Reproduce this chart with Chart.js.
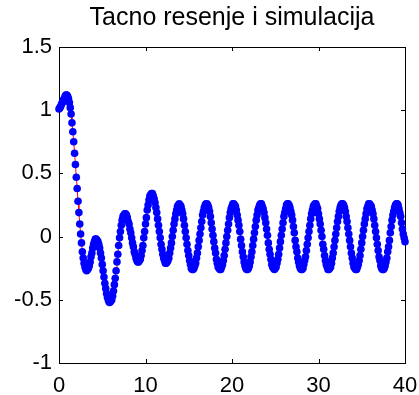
<!DOCTYPE html>
<html>
<head>
    <title>Tacno resenje i simulacija</title>
    <script src="https://cdn.jsdelivr.net/npm/chart.js"></script>
    <style>
        body { margin: 0; background: #fff; }
        #plot { display: block; }
    </style>
</head>
<body>
    <canvas id="plot" width="419" height="395"></canvas>

    <script>
        // sample step of the simulation (time axis 0..40)
        const tStep = 0.1;

        // response, one value per 0.1 s, t = 0 .. 40
        const simY = [
            1.01, 1.02, 1.03, 1.05, 1.06, 1.08, 1.09, 1.11, 1.12, 1.12,
            1.11, 1.09, 1.06, 1.02, 0.97, 0.90, 0.83, 0.75, 0.66, 0.57,
            0.47, 0.38, 0.28, 0.19, 0.10, 0.02, -0.05, -0.12, -0.17, -0.21,
            -0.24, -0.26, -0.27, -0.26, -0.25, -0.23, -0.20, -0.16, -0.13, -0.09,
            -0.06, -0.04, -0.02, -0.02, -0.03, -0.04, -0.06, -0.09, -0.13, -0.17,
            -0.22, -0.27, -0.32, -0.37, -0.41, -0.45, -0.48, -0.50, -0.52, -0.52,
            -0.51, -0.50, -0.47, -0.43, -0.38, -0.33, -0.27, -0.20, -0.14, -0.07,
            -0.01, 0.04, 0.09, 0.13, 0.16, 0.17, 0.18, 0.18, 0.17, 0.15,
            0.12, 0.10, 0.06, 0.03, -0.01, -0.05, -0.08, -0.12, -0.14, -0.17,
            -0.19, -0.20, -0.20, -0.19, -0.18, -0.15, -0.11, -0.07, -0.01, 0.04,
            0.10, 0.15, 0.21, 0.25, 0.29, 0.32, 0.33, 0.34, 0.34, 0.32,
            0.30, 0.27, 0.23, 0.19, 0.14, 0.09, 0.04, -0.01, -0.06, -0.10,
            -0.14, -0.17, -0.19, -0.21, -0.21, -0.20, -0.19, -0.17, -0.13, -0.09,
            -0.05, 0.00, 0.05, 0.10, 0.14, 0.18, 0.21, 0.24, 0.25, 0.26,
            0.25, 0.24, 0.21, 0.18, 0.14, 0.09, 0.04, -0.01, -0.06, -0.11,
            -0.15, -0.19, -0.22, -0.25, -0.26, -0.26, -0.25, -0.23, -0.21, -0.17,
            -0.13, -0.08, -0.03, 0.02, 0.07, 0.12, 0.17, 0.20, 0.23, 0.25,
            0.26, 0.26, 0.25, 0.23, 0.20, 0.16, 0.11, 0.06, 0.01, -0.04,
            -0.09, -0.13, -0.18, -0.21, -0.24, -0.25, -0.26, -0.26, -0.24, -0.22,
            -0.19, -0.15, -0.10, -0.05, 0.00, 0.05, 0.10, 0.15, 0.19, 0.22,
            0.24, 0.26, 0.26, 0.25, 0.24, 0.21, 0.17, 0.13, 0.09, 0.04,
            -0.02, -0.07, -0.12, -0.16, -0.20, -0.23, -0.25, -0.26, -0.26, -0.25,
            -0.23, -0.20, -0.16, -0.12, -0.07, -0.02, 0.03, 0.08, 0.13, 0.17,
            0.21, 0.23, 0.25, 0.26, 0.26, 0.24, 0.22, 0.19, 0.15, 0.11,
            0.06, 0.01, -0.05, -0.10, -0.14, -0.18, -0.22, -0.24, -0.25, -0.26,
            -0.25, -0.24, -0.21, -0.18, -0.14, -0.09, -0.04, 0.01, 0.06, 0.11,
            0.16, 0.19, 0.22, 0.25, 0.26, 0.26, 0.25, 0.23, 0.20, 0.17,
            0.13, 0.08, 0.03, -0.03, -0.08, -0.12, -0.17, -0.20, -0.23, -0.25,
            -0.26, -0.26, -0.25, -0.22, -0.19, -0.16, -0.11, -0.06, -0.01, 0.04,
            0.09, 0.14, 0.18, 0.21, 0.24, 0.25, 0.26, 0.26, 0.24, 0.22,
            0.18, 0.14, 0.10, 0.05, 0.00, -0.06, -0.10, -0.15, -0.19, -0.22,
            -0.24, -0.26, -0.26, -0.25, -0.24, -0.21, -0.17, -0.13, -0.08, -0.03,
            0.02, 0.07, 0.12, 0.16, 0.20, 0.23, 0.25, 0.26, 0.26, 0.25,
            0.23, 0.20, 0.16, 0.12, 0.07, 0.02, -0.03, -0.08, -0.13, -0.17,
            -0.21, -0.24, -0.25, -0.26, -0.26, -0.24, -0.22, -0.19, -0.15, -0.10,
            -0.05, 0.00, 0.05, 0.10, 0.14, 0.18, 0.22, 0.24, 0.26, 0.26,
            0.25, 0.24, 0.21, 0.18, 0.14, 0.09, 0.04, -0.01, -0.06, -0.11,
            -0.16, -0.19, -0.23, -0.25, -0.26, -0.26, -0.25, -0.23, -0.20, -0.17,
            -0.12, -0.08, -0.03, 0.03, 0.08, 0.13, 0.17, 0.20, 0.23, 0.25,
            0.26, 0.26, 0.25, 0.22, 0.19, 0.16, 0.11, 0.06, 0.02, -0.01,
            -0.04
        ];

        const xTicks = [0, 10, 20, 30, 40];
        const yTicks = [-1, -0.5, 0, 0.5, 1, 1.5];

        const points = simY.map((v, i) => ({ x: i * tStep, y: v }));

        // matlab style box with small inward ticks on all four sides
        const boxPlugin = {
            id: 'box',
            beforeDatasetsDraw(chart) {
                const { ctx, chartArea: a, scales: { x, y } } = chart;
                ctx.save();
                ctx.strokeStyle = '#000';
                ctx.lineWidth = 1;
                ctx.strokeRect(a.left + 0.5, a.top + 0.5, a.right - a.left, a.bottom - a.top);
                ctx.beginPath();
                xTicks.forEach(v => {
                    const px = Math.round(x.getPixelForValue(v)) + 0.5;
                    ctx.moveTo(px, a.bottom); ctx.lineTo(px, a.bottom - 4);
                    ctx.moveTo(px, a.top); ctx.lineTo(px, a.top + 4);
                });
                yTicks.forEach(v => {
                    const py = Math.round(y.getPixelForValue(v)) + 0.5;
                    ctx.moveTo(a.left, py); ctx.lineTo(a.left + 4, py);
                    ctx.moveTo(a.right, py); ctx.lineTo(a.right - 4, py);
                });
                ctx.stroke();
                ctx.restore();
            }
        };

        const font = { family: 'Liberation Sans, Arial, sans-serif', size: 22 };

        new Chart(document.getElementById('plot'), {
            type: 'line',
            data: {
                datasets: [{
                    label: 'Simulacija',
                    data: points,
                    showLine: false,
                    pointRadius: 3.8,
                    pointBorderWidth: 0,
                    pointBackgroundColor: '#0000ff',
                    borderColor: '#0000ff',
                    clip: false,
                    order: 1
                }, {
                    label: 'Tacno resenje',
                    data: points,
                    borderColor: '#ff0000',
                    borderWidth: 1,
                    pointRadius: 0,
                    order: 2
                }]
            },
            options: {
                responsive: false,
                animation: false,
                devicePixelRatio: 1,
                layout: { padding: { left: 0, right: 14, top: 0, bottom: 0 } },
                plugins: {
                    legend: { display: false },
                    tooltip: { enabled: false },
                    title: {
                        display: true,
                        text: 'Tacno resenje i simulacija',
                        color: '#000',
                        fullSize: false,
                        font: { family: font.family, size: 25, weight: 'normal' },
                        padding: { top: 3, bottom: 14 }
                    }
                },
                scales: {
                    x: {
                        type: 'linear',
                        min: 0,
                        max: 40,
                        afterBuildTicks: s => { s.ticks = xTicks.map(v => ({ value: v })); },
                        afterFit: s => { s.height = 32; s.paddingLeft = 0; s.paddingRight = 0; },
                        grid: { display: false, drawTicks: false },
                        border: { display: false },
                        ticks: { color: '#000', font: font, padding: 10, maxRotation: 0 }
                    },
                    y: {
                        min: -1,
                        max: 1.5,
                        afterBuildTicks: s => { s.ticks = yTicks.map(v => ({ value: v })); },
                        afterFit: s => { s.width = 59; s.paddingTop = 0; s.paddingBottom = 0; },
                        grid: { display: false, drawTicks: false },
                        border: { display: false },
                        ticks: { color: '#000', font: font, padding: 7, callback: v => String(v) }
                    }
                }
            },
            plugins: [boxPlugin]
        });
    </script>
</body>
</html>
